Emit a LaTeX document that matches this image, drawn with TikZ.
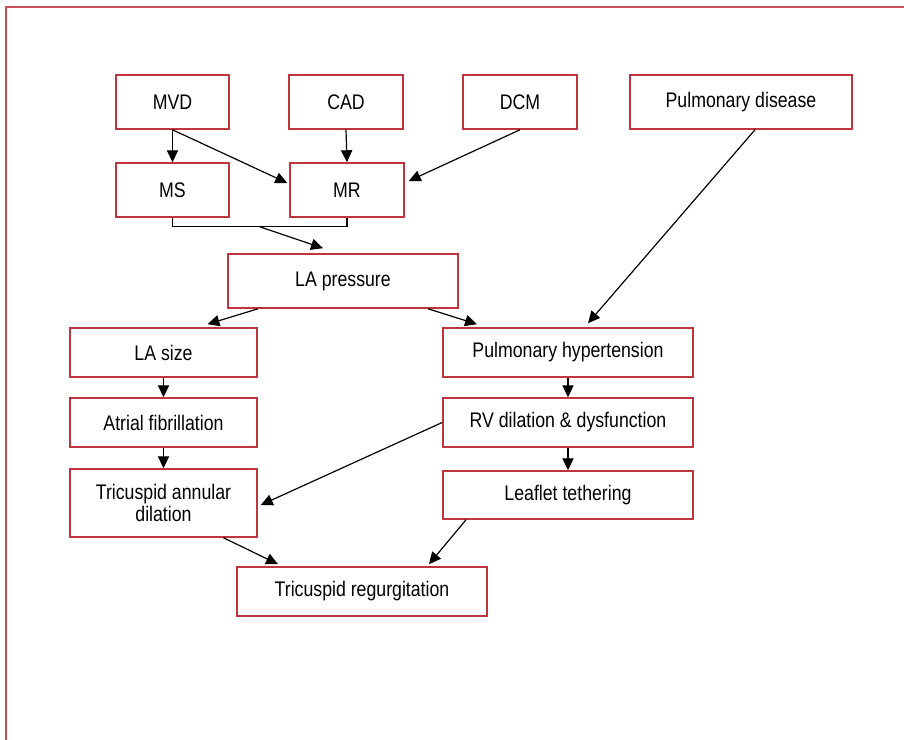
\documentclass[tikz,border=0pt]{standalone}
\usepackage{fontspec}
\setmainfont[FakeStretch=0.84]{Liberation Sans}
\usetikzlibrary{arrows.meta,calc}
\definecolor{boxred}{RGB}{192,52,64}
\definecolor{framered}{RGB}{200,78,90}

\begin{document}
\begin{tikzpicture}[x=0.025cm,y=-0.025cm,
    box/.style={draw=boxred, line width=1.1pt, inner sep=0pt, align=center,
        minimum height=1.225cm, font=\fontsize{15}{15.5}\selectfont},
    link/.style={line width=0.85pt, -{Triangle[length=8.5pt,width=8pt]}}]
    \useasboundingbox (0,0) rectangle (904,740);

    % Draw Outer Frame
    \draw[framered, line width=1.6pt] (6,740) -- (6,7) -- (904,7);

    % Causes
    \node[box, minimum width=2.825cm, minimum height=1.35cm] (MVD) at (172.5,102) {MVD};
    \node[box, minimum width=2.85cm, minimum height=1.35cm] (CAD) at (346,102) {CAD};
    \node[box, minimum width=2.85cm, minimum height=1.35cm] (DCM) at (520,102) {DCM};
    \node[box, minimum width=5.55cm, minimum height=1.35cm] (PD) at (741,102) {Pulmonary disease};

    % Valve lesions
    \node[box, minimum width=2.825cm, minimum height=1.35cm] (MS) at (172.5,190) {MS};
    \node[box, minimum width=2.85cm, minimum height=1.35cm] (MR) at (347,190) {MR};
    \node[box, minimum width=5.75cm, minimum height=1.35cm] (LAP) at (343,281) {LA pressure};

    % -- left branch
    \node[box, minimum width=4.675cm] (LAS) at (163.5,352.5) {LA size};
    \node[box, minimum width=4.675cm] (AF) at (163.5,422.5) {Atrial fibrillation};
    \node[box, minimum width=4.675cm, minimum height=1.7cm] (TAD) at (163.5,503) {Tricuspid annular\\dilation};

    % -- right branch
    \node[box, minimum width=6.25cm] (PH) at (568,352.5) {Pulmonary hypertension};
    \node[box, minimum width=6.25cm] (RV) at (568,422.5) {RV dilation \& dysfunction};
    \node[box, minimum width=6.25cm, minimum height=1.2cm] (LT) at (568,495) {Leaflet tethering};

    % -- outcome
    \node[box, minimum width=6.25cm] (TR) at (362,591.5) {Tricuspid regurgitation};

    % Arrows
    \draw[link] (MVD.south) -- (MS.north);
    \draw[link] (MVD.south) -- ($(MR.west)+(-2,-7)$);
    \draw[link] (CAD.south) -- (MR.north);
    \draw[link] (DCM.south) -- ($(MR.east)+(4,-9)$);
    \draw[link] ($(PD.south)+(14,0)$) -- ($(PH.north)+(20,-4)$);

    % -- MS and MR join
    \draw[line width=0.85pt] (MS.south) -- ++(0,9) -| (MR.south);
    \coordinate (join) at ($(MS.south)!0.5!(MR.south)+(0,9)$);
    \draw[link] (join) -- ($(LAP.north)+(-20,-5)$);

    \draw[link] ($(LAP.south)+(-85,0)$) -- ($(LAS.north)+(44,-3)$);
    \draw[link] ($(LAP.south)+(85,0)$) -- ($(PH.north)+(-91,-3)$);
    \draw[link] (LAS.south) -- (AF.north);
    \draw[link] (AF.south) -- (TAD.north);
    \draw[link] (PH.south) -- (RV.north);
    \draw[link] (RV.south) -- (LT.north);
    \draw[link] (RV.west) -- ($(TAD.east)+(3,2)$);
    \draw[link] ($(TAD.south)+(60,0)$) -- ($(TR.north)+(-84,-2)$);
    \draw[link] ($(LT.south)+(-102,0)$) -- ($(TR.north)+(67,-2)$);
\end{tikzpicture}
\end{document}
